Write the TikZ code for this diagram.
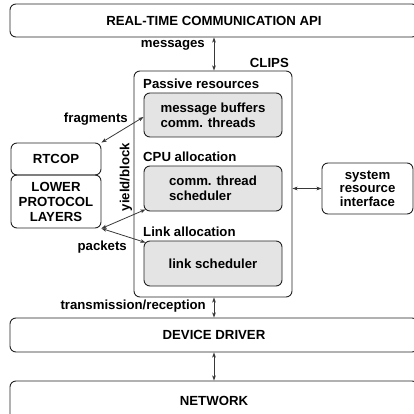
\documentclass[tikz,border=0pt]{standalone}
\usepackage{fontspec}
\setmainfont{Liberation Sans}
\usetikzlibrary{arrows.meta,calc}
\definecolor{panel}{HTML}{E4E4E4}
\definecolor{edge}{HTML}{222222}
\begin{document}
\begin{tikzpicture}[x=1pt,y=-1pt,
  txt/.style={font=\bfseries\fontsize{13.2}{15}\selectfont},
  box/.style={txt,draw=edge,line width=0.9pt,rounded corners=6pt,inner sep=0pt,align=center},
  grey/.style={box,fill=panel,align=left},
  lbl/.style={txt,inner sep=0pt},
  dar/.style={draw=edge!90,line width=0.8pt,{Stealth[length=5pt,width=3.6pt,inset=1.2pt]}-{Stealth[length=5pt,width=3.6pt,inset=1.2pt]}}
]
\clip (0,0) rectangle (414,414);

% layers
\node[box,minimum width=408pt,minimum height=33pt] (api) at (214,20.5) {REAL-TIME COMMUNICATION API};
\node[box,minimum width=408pt,minimum height=34pt] (dd) at (214,335) {DEVICE DRIVER};
\node[box,minimum width=408pt,minimum height=39pt] (net) at (214,400.5) {NETWORK};

% CLIPS with its three resource groups
\node[box,minimum width=158pt,minimum height=226pt] (clips) at (213,184) {};
\node[grey,minimum width=138pt,minimum height=44pt] (g1) at (213,115) {message buffers\\comm. threads};
\node[grey,minimum width=138pt,minimum height=45pt] (g2) at (213,188.5) {comm. thread\\scheduler};
\node[grey,minimum width=138pt,minimum height=45pt] (g3) at (213,263.5) {link scheduler};

\node[lbl,anchor=east] (clipsl) at (289,63) {CLIPS};
\node[lbl,anchor=west] (pr) at (143,84) {Passive resources};
\node[lbl,anchor=west] (cpu) at (143,157) {CPU allocation};
\node[lbl,anchor=west] (link) at (143,232) {Link allocation};

% protocol stack and system interface
\node[box,minimum width=90pt,minimum height=32pt] (rtcop) at (56,159) {RTCOP};
\node[box,minimum width=90pt,minimum height=53pt] (lpl) at (56,201.5) {LOWER\\PROTOCOL\\LAYERS};
\node[box,minimum width=91pt,minimum height=51pt,font=\bfseries\fontsize{13.2}{13.5}\selectfont] (sri) at (367.5,188.5) {system\\resource\\interface};

% connectors
\draw[dar] (api.south) -- (api.south |- clips.north);
\draw[dar] (dd.north |- clips.south) -- (dd.north);
\draw[dar] (dd.south) -- (net.north);
\draw[dar] (clips.east |- sri.west) -- (sri.west);
\draw[dar] (rtcop.north east) -- ($(g1.west)+(0,2)$);
\draw[dar] (lpl.south east) -- ($(g2.south west)+(2,-2)$);
\draw[dar] (lpl.south east) -- ($(g3.north west)+(2,2)$);

% connector labels
\node[lbl,anchor=east] (msg) at (205,45) {messages};
\node[lbl,anchor=east] (frag) at (128,119) {fragments};
\node[lbl,rotate=90] (yb) at (126,177) {yield/block};
\node[lbl,anchor=east] (pk) at (127,247) {packets};
\node[lbl,anchor=east] (tr) at (206,306) {transmission/reception};
\end{tikzpicture}
\end{document}
